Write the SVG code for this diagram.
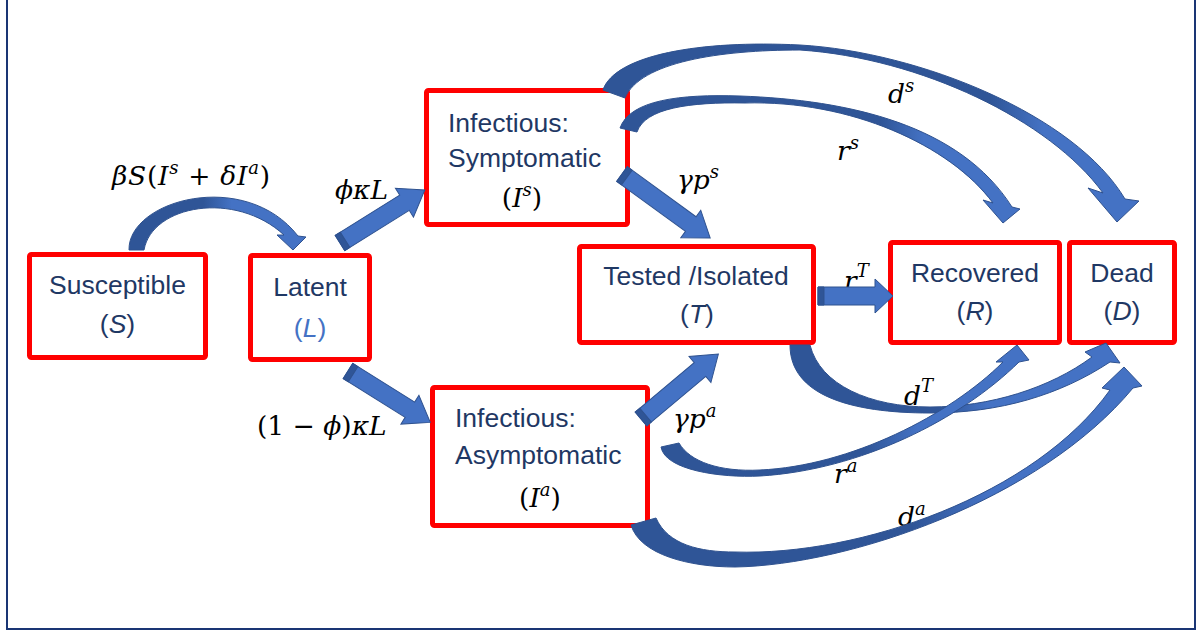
<svg xmlns="http://www.w3.org/2000/svg" width="1199" height="633" viewBox="0 0 1199 633">
<style>
.box{fill:#fff;stroke:#ff0000;stroke-width:5}
.t{font-family:"Liberation Sans",Arial,sans-serif;font-size:26.5px;fill:#1f3864}
.m{font-family:"DejaVu Serif","Liberation Serif",serif;font-size:26.5px;font-style:italic;fill:#000}
.n{font-style:normal}
.sup{font-size:18px}
.i{font-style:italic}
.arr{fill:#4472c4;stroke:#2f528f;stroke-width:1}
.bev{fill:#2f5597;stroke:#2f528f;stroke-width:1}
.carr{stroke:#2f528f;stroke-width:1}
</style>
<defs>
<linearGradient id="gSL" gradientUnits="userSpaceOnUse" x1="129" y1="0" x2="306" y2="0"><stop offset="0" stop-color="#2f5597"/><stop offset="0.42" stop-color="#2f5597"/><stop offset="0.58" stop-color="#4472c4"/><stop offset="1" stop-color="#4472c4"/></linearGradient>
<linearGradient id="gDs" gradientUnits="userSpaceOnUse" x1="603" y1="0" x2="1140" y2="0"><stop offset="0" stop-color="#2f5597"/><stop offset="0.72" stop-color="#2f5597"/><stop offset="0.82" stop-color="#4472c4"/><stop offset="1" stop-color="#4472c4"/></linearGradient>
<linearGradient id="gRs" gradientUnits="userSpaceOnUse" x1="620" y1="0" x2="1020" y2="0"><stop offset="0" stop-color="#2f5597"/><stop offset="0.65" stop-color="#2f5597"/><stop offset="0.76" stop-color="#4472c4"/><stop offset="1" stop-color="#4472c4"/></linearGradient>
<linearGradient id="gDT" gradientUnits="userSpaceOnUse" x1="790" y1="0" x2="1120" y2="0"><stop offset="0" stop-color="#2f5597"/><stop offset="0.45" stop-color="#2f5597"/><stop offset="0.6" stop-color="#4472c4"/><stop offset="1" stop-color="#4472c4"/></linearGradient>
<linearGradient id="gRa" gradientUnits="userSpaceOnUse" x1="661" y1="0" x2="1029" y2="0"><stop offset="0" stop-color="#2f5597"/><stop offset="0.55" stop-color="#2f5597"/><stop offset="0.7" stop-color="#4472c4"/><stop offset="1" stop-color="#4472c4"/></linearGradient>
<linearGradient id="gDa" gradientUnits="userSpaceOnUse" x1="631" y1="0" x2="1142" y2="0"><stop offset="0" stop-color="#2f5597"/><stop offset="0.55" stop-color="#2f5597"/><stop offset="0.7" stop-color="#4472c4"/><stop offset="1" stop-color="#4472c4"/></linearGradient>
</defs>
<rect x="0" y="0" width="1199" height="633" fill="#fff"/>
<rect id="frame" x="7" y="-5" width="1188" height="634" fill="none" stroke="#1a3574" stroke-width="2"/>

<g id="node-S">
<rect class="box" x="29.5" y="254.5" width="176" height="103" rx="2"/>
<text class="t" x="117.5" y="294" text-anchor="middle">Susceptible</text>
<text class="t" x="117.5" y="333" text-anchor="middle">(<tspan class="i">S</tspan>)</text>
</g>
<g id="node-L">
<rect class="box" x="250.5" y="255.5" width="119" height="104" rx="2"/>
<text class="t" x="310" y="296" text-anchor="middle">Latent</text>
<text class="t" x="310" y="337" text-anchor="middle" style="fill:#4472c4">(<tspan class="i">L</tspan>)</text>
</g>
<g id="node-Is">
<rect class="box" x="426.5" y="90.5" width="201" height="134" rx="2"/>
<text class="t" x="448" y="132">Infectious:</text>
<text class="t" x="448" y="167">Symptomatic</text>
<text class="m" x="522" y="207" text-anchor="middle"><tspan class="n">(</tspan>I<tspan class="sup" dy="-11">s</tspan><tspan class="n" dy="11">)</tspan></text>
</g>
<g id="node-Ia">
<rect class="box" x="432.5" y="387.5" width="215" height="138" rx="2"/>
<text class="t" x="455" y="427">Infectious:</text>
<text class="t" x="455" y="464">Asymptomatic</text>
<text class="m" x="540" y="507" text-anchor="middle"><tspan class="n">(</tspan>I<tspan class="sup" dy="-11">a</tspan><tspan class="n" dy="11">)</tspan></text>
</g>
<g id="node-T">
<rect class="box" x="579.5" y="246.5" width="234" height="96" rx="2"/>
<text class="t" x="696" y="285" text-anchor="middle">Tested /Isolated</text>
<text class="t" x="697" y="323" text-anchor="middle">(<tspan class="i">T</tspan>)</text>
</g>
<g id="node-R">
<rect class="box" x="890.5" y="242.5" width="169" height="100" rx="2"/>
<text class="t" x="975" y="282" text-anchor="middle">Recovered</text>
<text class="t" x="975" y="320" text-anchor="middle">(<tspan class="i">R</tspan>)</text>
</g>
<g id="node-D">
<rect class="box" x="1069.5" y="242.5" width="105" height="100" rx="2"/>
<text class="t" x="1122" y="282" text-anchor="middle">Dead</text>
<text class="t" x="1122" y="320" text-anchor="middle">(<tspan class="i">D</tspan>)</text>
</g>

<g id="edge-labels">
<text class="m" x="112" y="185" textLength="158" lengthAdjust="spacing">βS<tspan class="n">(</tspan>I<tspan class="sup" dy="-11">s</tspan><tspan class="n" dy="11"> + </tspan>δI<tspan class="sup" dy="-11">a</tspan><tspan class="n" dy="11">)</tspan></text>
<text class="m" x="335" y="199">ϕκL</text>
<text class="m" x="257" y="435"><tspan class="n">(1 − </tspan>ϕ<tspan class="n">)</tspan>κL</text>
<text class="m" x="677" y="189">γp<tspan class="sup" dy="-11">s</tspan></text>
<text class="m" x="673" y="428">γp<tspan class="sup" dy="-11">a</tspan></text>
<text class="m" x="888" y="103">d<tspan class="sup" dy="-11">s</tspan></text>
<text class="m" x="837" y="160">r<tspan class="sup" dy="-11">s</tspan></text>
<text class="m" x="844" y="290">r<tspan class="sup" dy="-13">T</tspan></text>
<text class="m" x="904" y="405">d<tspan class="sup" dy="-13">T</tspan></text>
<text class="m" x="834" y="483">r<tspan class="sup" dy="-11">a</tspan></text>
<text class="m" x="898" y="526">d<tspan class="sup" dy="-11">a</tspan></text>
</g>

<g id="connectors">
<path class="carr" fill="url(#gSL)" d="M129,250 C128,200 245,168 298,236 L306,237 L293,250 L277,235 L284,235 C235,190 152,205 144,250 Z"/>
<g transform="translate(340,243) rotate(-32)"><polygon class="arr" points="0,-9 76,-9 76,-17 100,0 76,17 76,9 0,9"/><polygon class="bev" points="0,-9 6,-9 6,9 0,9"/></g>
<g transform="translate(348,371) rotate(32)"><polygon class="arr" points="0,-9 73,-9 73,-17 97,0 73,17 73,9 0,9"/><polygon class="bev" points="0,-9 6,-9 6,9 0,9"/></g>
<g transform="translate(622,174) rotate(36)"><polygon class="arr" points="0,-9 85,-9 85,-17 109,0 85,17 85,9 0,9"/><polygon class="bev" points="0,-9 6,-9 6,9 0,9"/></g>
<g transform="translate(641,419) rotate(-40)"><polygon class="arr" points="0,-9 77,-9 77,-17 101,0 77,17 77,9 0,9"/><polygon class="bev" points="0,-9 6,-9 6,9 0,9"/></g>
<g transform="translate(818,296)"><polygon class="arr" points="0,-9 57,-9 57,-17 75,0 57,17 57,9 0,9"/><polygon class="bev" points="0,-9 6,-9 6,9 0,9"/></g>
<path class="carr" fill="url(#gDs)" d="M603,90 C615,55 700,40 800,45 C920,52 1075,115 1125,199 L1139,201 L1117,222 L1088,188 L1103,193 C1050,120 920,58 800,50 C720,50 640,62 625,98 Z"/>
<path class="carr" fill="url(#gRs)" d="M620,128 C630,100 680,94 740,96 C850,100 960,125 1012,207 L1020,209 L1003,223 L983,200 L993,203 C950,145 850,100 745,103 C690,102 645,108 637,132 Z"/>
<path class="carr" fill="url(#gDT)" d="M790,345 C790,395 850,413 930,413 C1000,413 1060,395 1110,362 L1120,363 L1106,343 L1085,352 L1092,357 C1050,388 990,407 930,407 C870,407 820,385 810,345 Z"/>
<path class="carr" fill="url(#gRa)" d="M661,447 C665,470 720,478 760,476 C860,470 960,420 1019,362 L1029,360 L1017,345 L996,362 L1003,362 C950,415 850,466 760,470 C720,472 690,462 679,443 Z"/>
<path class="carr" fill="url(#gDa)" d="M631,525 C640,555 690,567 735,567 C850,565 1040,500 1133,388 L1142,386 L1124,367 L1102,388 L1110,390 C1035,495 860,556 735,552 C700,552 668,545 656,518 Z"/>
</g>
</svg>
